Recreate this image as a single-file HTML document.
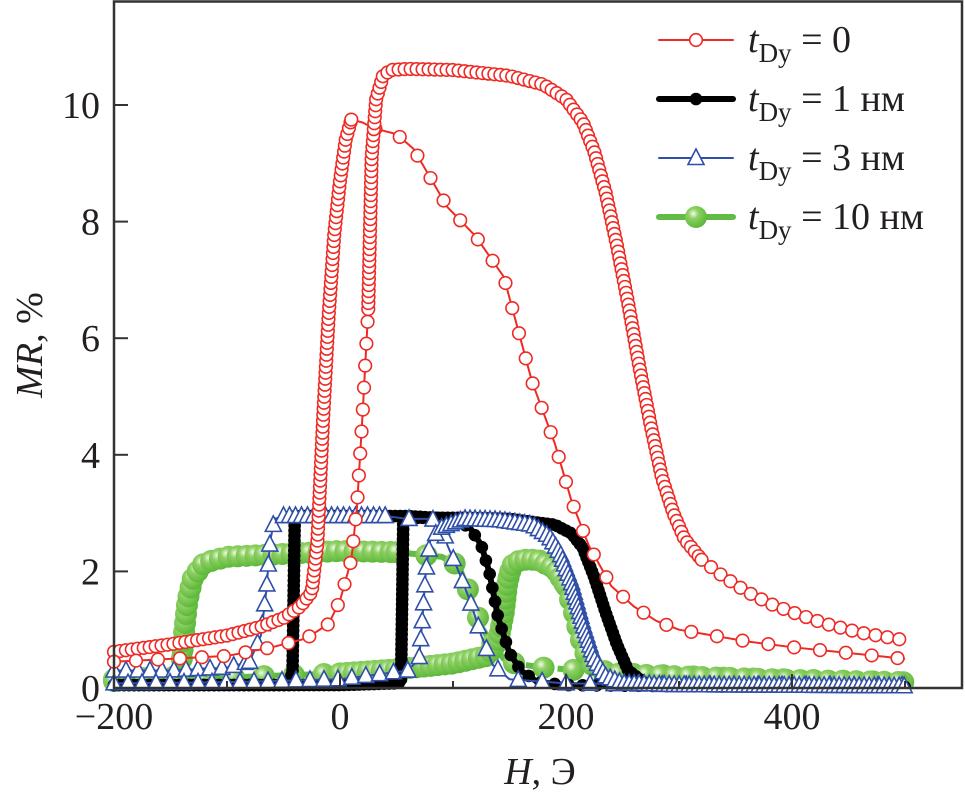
<!DOCTYPE html>
<html><head><meta charset="utf-8"><style>
body{margin:0;background:#fff}
svg text{font-family:"Liberation Serif","Times New Roman",serif;fill:#231f20}
</style></head><body>
<svg id="chart" width="965" height="799" viewBox="0 0 965 799" xmlns="http://www.w3.org/2000/svg">
<defs>
<radialGradient id="gball" cx="0.38" cy="0.35" r="0.65">
<stop offset="0" stop-color="#f2fbe9"/><stop offset="0.35" stop-color="#8fd064"/><stop offset="1" stop-color="#5cb83a"/>
</radialGradient>
</defs>
<g id="plot"></g>
<rect x="114" y="1.5" width="848" height="686.5" fill="none" stroke="#333" stroke-width="2.5"/>
<g id="axes"></g>
<text transform="translate(42,345) rotate(-90)" text-anchor="middle" font-size="38"><tspan font-style="italic">MR</tspan>, %</text>
<text x="540" y="784" text-anchor="middle" font-size="38"><tspan font-style="italic">H</tspan>, Э</text>
<g id="legend"></g>
</svg>
<script>
const xTicks=[-200,0,200,400];
const yTicks=[0,2,4,6,8,10];
const seriesNames=["t0","t1","t3","t10"];
const legendLabels=["= 0","= 1 нм","= 3 нм","= 10 нм"];
// t=0, branch A (dense left, peak ~9.75)
const r0aH=[-200,-150,-100,-70,-50,-35,-25,-20,-15,-10,-5,0,5,10,20,30,50,65,95,120,145,170,190,205,220,240,260,280,300,330,360,400,450,500];
const r0aM=[0.62,0.75,0.9,1.05,1.2,1.4,1.65,2.5,4.6,6.4,7.8,8.7,9.4,9.75,9.7,9.6,9.5,9.25,8.25,7.75,7.05,5.25,4.2,3.2,2.45,1.75,1.4,1.15,1.0,0.9,0.8,0.7,0.6,0.5];
// t=0, branch B (sparse left, plateau ~10.6)
const r0bH=[-200,-150,-100,-60,-30,-10,0,10,15,20,25,28,32,38,45,60,100,150,180,200,215,225,235,245,255,265,275,285,295,305,320,340,360,380,400,430,460,500];
const r0bM=[0.45,0.5,0.55,0.7,0.85,1.1,1.5,2.2,3.1,4.7,6.5,9.1,10.1,10.5,10.6,10.62,10.6,10.5,10.35,10.1,9.7,9.2,8.5,7.6,6.6,5.5,4.5,3.6,3.0,2.55,2.2,1.9,1.65,1.45,1.3,1.1,0.95,0.82];
// t=1 nm
const k1aH=[-200,-100,0,50,54,56,60,100,150,190,205,215,225,235,245,255,270,300,400,500];
const k1aM=[0.05,0.05,0.05,0.08,0.1,2.9,2.92,2.92,2.9,2.8,2.65,2.4,1.9,1.3,0.75,0.3,0.08,0.05,0.03,0.02];
const k1bH=[-200,-100,-45,-42,-40,0,60,100,115,125,132,140,150,160,175,200,300,500];
const k1bM=[0.05,0.05,0.05,0.3,2.95,2.95,2.95,2.9,2.75,2.45,2.0,1.2,0.6,0.3,0.1,0.05,0.03,0.02];
// t=3 nm
const b3aH=[-200,-150,-100,-80,-70,-65,-62,-58,-50,0,40,60,80,90,95,105,115,125,135,150,200,300,500];
const b3aM=[0.3,0.3,0.35,0.45,0.9,1.7,2.5,2.9,2.95,2.95,2.95,2.9,2.9,2.85,2.45,2.0,1.5,0.9,0.4,0.15,0.08,0.05,0.04];
const b3bH=[-200,-100,0,60,70,73,76,80,90,110,140,170,185,195,205,215,225,235,250,300,500];
const b3bM=[0.08,0.1,0.15,0.3,0.5,1.2,2.0,2.55,2.75,2.9,2.88,2.8,2.6,2.3,1.8,1.1,0.5,0.2,0.08,0.05,0.03];
// t=10 nm
const g10aH=[-200,-160,-145,-140,-138,-135,-130,-120,-100,-50,0,50,90,105,115,125,135,145,155,180,250,350,500];
const g10aM=[0.15,0.18,0.2,0.5,0.95,1.5,1.9,2.15,2.25,2.3,2.35,2.33,2.25,2.1,1.6,1.05,0.75,0.5,0.42,0.35,0.25,0.17,0.1];
const g10bH=[-200,-100,0,50,100,130,140,145,148,152,160,175,190,200,207,212,218,225,240,300,400,500];
const g10bM=[0.12,0.18,0.25,0.32,0.42,0.55,0.8,1.3,1.8,2.1,2.2,2.2,2.05,1.75,1.3,0.9,0.55,0.35,0.25,0.2,0.14,0.1];

const X=h=>340+h*1.13, Y=m=>688-m*58.3;
const NS="http://www.w3.org/2000/svg";
const plot=document.getElementById('plot'), axes=document.getElementById('axes'), leg=document.getElementById('legend');
function mk(t,a,p){const e=document.createElementNS(NS,t);for(const k in a)e.setAttribute(k,a[k]);p.appendChild(e);return e;}

xTicks.forEach(v=>{
  const t=mk('line',{x1:X(v),x2:X(v),y1:688,y2:674,stroke:'#333','stroke-width':2},axes);
  
  
  const l=mk('text',{x:X(v),y:729,'text-anchor':'middle','font-size':38},axes);
  l.textContent=v<0?'\u2212'+(-v):String(v);
  
  
});
[-100,100,300,500].forEach(v=>{const t=mk('line',{x1:X(v),x2:X(v),y1:688,y2:681,stroke:'#333','stroke-width':2},axes);
  
  });
yTicks.forEach(v=>{
  const t=mk('line',{x1:114,x2:128,y1:Y(v),y2:Y(v),stroke:'#333','stroke-width':2},axes);
  
  
  const l=mk('text',{x:100,y:Y(v)+13,'text-anchor':'end','font-size':38},axes);
  l.textContent=String(v);
  
  
});

function pts(H,M){return H.map((h,i)=>[X(h),Y(M[i])]);}
function along(p,sp){const out=[p[0]];let acc=0;for(let i=1;i<p.length;i++){let [x0,y0]=p[i-1],[x1,y1]=p[i];let d=Math.hypot(x1-x0,y1-y0),pos=sp-acc;while(pos<=d){out.push([x0+(x1-x0)*pos/d,y0+(y1-y0)*pos/d]);pos+=sp;}acc=d-(pos-sp);}return out;}
function marker(kind,x,y,g){
  let e;
  if(kind==='red')e=mk('circle',{cx:x,cy:y,r:6.3,fill:'#fff',stroke:'#ee2a24','stroke-width':1.6},g);
  else if(kind==='black')e=mk('circle',{cx:x,cy:y,r:6.3,fill:'#000'},g);
  else if(kind==='blue')e=mk('polygon',{points:`${x},${y-9} ${x-8},${y+6.5} ${x+8},${y+6.5}`,fill:'#fff',stroke:'#2f4fa8','stroke-width':1.6},g);
  else e=mk('circle',{cx:x,cy:y,r:11,fill:'url(#gball)'},g);
  return e;
}
function branch(name,H,M,kind,color,lw,segs){
  const g=mk('g',{},plot);
  
  
  segs.forEach(s=>{
    const idx=[];H.forEach((h,i)=>{if(i>=s[0]&&i<=s[1])idx.push(i);});
    const p=pts(idx.map(i=>H[i]),idx.map(i=>M[i]));
    const pl=mk('polyline',{points:p.map(q=>q.join(',')).join(' '),fill:'none',stroke:color,'stroke-width':lw,'stroke-linejoin':'round'},g);
    if(s[3])pl.setAttribute('stroke-dasharray',s[3]);
    along(p,s[2]).forEach(q=>{const m=marker(kind,q[0],q[1],g);
      
      });
  });
}
branch('series-t10-branch-a',g10aH,g10aM,'green','#62bb46',6,[[0,3,30,''],[3,11,9,''],[11,22,30,'22 10']]);
branch('series-t10-branch-b',g10bH,g10bM,'green','#62bb46',6,[[0,2,30,''],[2,13,7,''],[13,21,14,'']]);
branch('series-t1-branch-a',k1aH,k1aM,'black','#000',6,[[0,21,5,'']]);
branch('series-t1-branch-b',k1bH,k1bM,'black','#000',6,[[0,7,5,''],[7,17,14,'']]);
branch('series-t3-branch-a',b3aH,b3aM,'blue','#2f4fa8',2,[[0,3,12,''],[3,8,20,''],[8,10,6,''],[10,22,24,'']]);
branch('series-t3-branch-b',b3bH,b3bM,'blue','#2f4fa8',2,[[0,3,14,''],[3,8,18,''],[8,20,5,'']]);
branch('series-t0-branch-a',r0aH,r0aM,'red','#ee2a24',2,[[0,13,6,''],[13,33,26,'']]);
branch('series-t0-branch-b',r0bH,r0bM,'red','#ee2a24',2,[[0,10,22,''],[10,30,6,''],[30,37,12,'']]);

const legKinds=['red','black','blue','green'], legCols=['#ee2a24','#000','#2f4fa8','#62bb46'], legW=[2,6,2,6];
legendLabels.forEach((lab,i)=>{
  const y=40+i*59;
  const g=mk('g',{},leg);
  
  
  mk('line',{x1:659,x2:733,y1:y,y2:y,stroke:legCols[i],'stroke-width':legW[i],'stroke-linecap':'round'},g);
  marker(legKinds[i],696,y,g);
  const t=mk('text',{x:748,y:y+12,'font-size':38},g);
  t.innerHTML='<tspan font-style="italic">t</tspan><tspan dy="10" font-size="27">Dy</tspan><tspan dy="-10"> '+lab+'</tspan>';
});
</script>
</body></html>
